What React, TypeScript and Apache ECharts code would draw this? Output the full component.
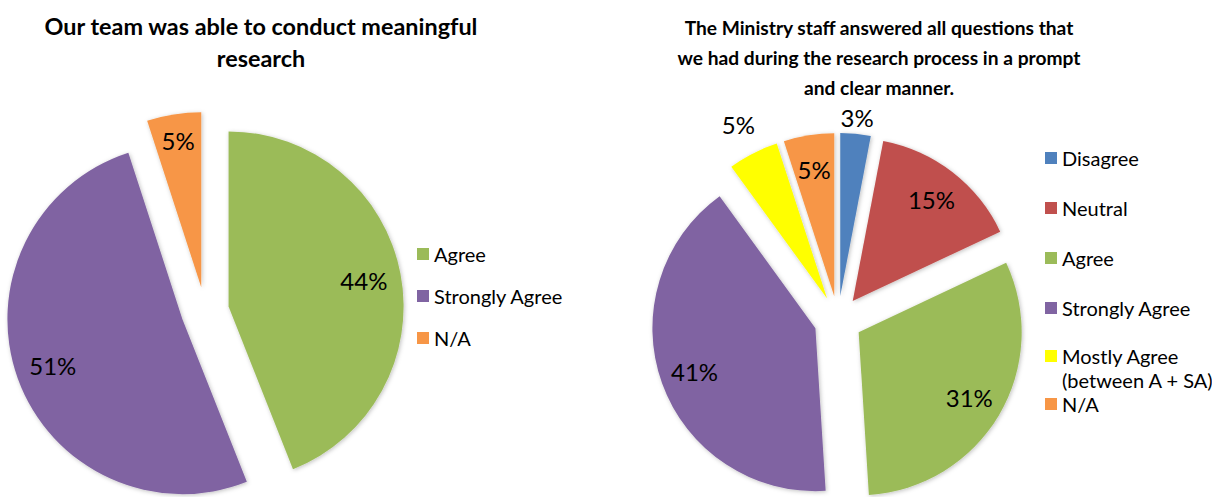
import React, { useEffect, useRef } from "react";
import * as echarts from "echarts";

const leftTitle = "Our team was able to conduct meaningful\nresearch";
const leftNames = ["Agree", "Strongly Agree", "N/A"];
const leftValues = [44, 51, 5];
const leftColors = ["#9BBB59", "#8064A2", "#F79646"];

const rightTitle =
  "The Ministry staff answered all questions that\nwe had during the research process in a prompt\nand clear manner.";
const rightNames = ["Disagree", "Neutral", "Agree", "Strongly Agree", "Mostly Agree (between A + SA)", "N/A"];
const rightValues = [3, 15, 31, 41, 5, 5];
const rightColors = ["#4F81BD", "#C0504D", "#9BBB59", "#8064A2", "#FFFF00", "#F79646"];

const FONT = "Lato, 'Open Sans', sans-serif";

function pieSeries(
  id: string,
  center: number[],
  radius: number[] | number,
  names: string[],
  values: number[],
  colors: string[],
  visible: boolean,
  labelIdx: number[]
) {
  return {
    type: "pie",
    name: id,
    center,
    radius,
    startAngle: 90,
    clockwise: true,
    selectedMode: "multiple",
    selectedOffset: 24,
    avoidLabelOverlap: false,
    silent: !visible,
    emphasis: { disabled: true, scale: false },
    z: visible ? 2 : 3,
    labelLine: { show: false },
    label: {
      show: false,
      position: "inside",
      formatter: "{c}%",
      color: "#000",
      fontFamily: FONT,
      fontSize: 24,
    },
    data: names.map((n, i) => ({
      name: n,
      value: values[i],
      selected: true,
      itemStyle: visible
        ? {
            color: colors[i],
            shadowBlur: 4,
            shadowColor: "rgba(0,0,0,0.25)",
            shadowOffsetX: 1,
            shadowOffsetY: 1,
          }
        : { color: "rgba(0,0,0,0)" },
      label: { show: labelIdx.includes(i) },
    })),
  };
}

export default function App() {
  const ref = useRef<HTMLDivElement>(null);
  useEffect(() => {
    if (!ref.current) return;
    const chart = echarts.init(ref.current, null, { renderer: "svg" });
    const LC = [205, 311];
    const LR = 175;
    const RC = [838, 320];
    const RR = 163;
    const legendText = { fontFamily: FONT, fontSize: 20, color: "#000" };
    chart.setOption({
      animation: false,
      backgroundColor: "#fff",
      title: [
        {
          text: leftTitle,
          left: 261,
          top: 10,
          padding: 0,
          textAlign: "center",
          textStyle: { fontFamily: FONT, fontWeight: "bold", fontSize: 23.4, lineHeight: 32, color: "#000" },
        },
        {
          text: rightTitle,
          left: 879,
          top: 12,
          padding: 0,
          textAlign: "center",
          textStyle: { fontFamily: FONT, fontWeight: "bold", fontSize: 19.2, lineHeight: 30, color: "#000" },
        },
      ],
      legend: [
        {
          orient: "vertical",
          left: 417,
          top: 244,
          padding: 0,
          itemGap: 22,
          itemWidth: 12,
          itemHeight: 12,
          icon: "rect",
          selectedMode: false,
          data: leftNames,
          textStyle: { ...legendText, lineHeight: 20 },
        },
        {
          orient: "vertical",
          left: 1045,
          top: 146,
          padding: 0,
          itemGap: 26,
          itemWidth: 12,
          itemHeight: 12,
          icon: "rect",
          selectedMode: false,
          data: rightNames.slice(0, 4),
          textStyle: { ...legendText, lineHeight: 24 },
        },
        {
          orient: "vertical",
          left: 1045,
          top: 320,
          padding: 0,
          itemGap: 0,
          itemWidth: 12,
          itemHeight: 12,
          icon: "rect",
          selectedMode: false,
          formatter: (n: string) => (n.indexOf(" (") >= 0 ? "\n" + n.replace(" (", "\n(") : n),
          data: rightNames.slice(4),
          textStyle: { ...legendText, lineHeight: 24 },
        },
      ],
      series: [
        pieSeries("leftPie", LC, LR, leftNames, leftValues, leftColors, true, []),
        pieSeries("rightPie", RC, RR, rightNames, rightValues, rightColors, true, []),
        pieSeries("leftLabels", LC, [LR * 0.54, LR], leftNames, leftValues, leftColors, false, [0, 1]),
        pieSeries("leftLabelsOuter", LC, [LR * 0.66, LR], leftNames, leftValues, leftColors, false, [2]),
        pieSeries("rightLabels", RC, [RR * 0.54, RR], rightNames, rightValues, rightColors, false, [1, 2, 3, 5]),
        pieSeries("rightOuterA", RC, [RR, RR * 1.17], rightNames, rightValues, rightColors, false, [0]),
        pieSeries("rightOuterB", RC, [RR * 1.08, RR * 1.28], rightNames, rightValues, rightColors, false, [4]),
      ],
    });
    return () => chart.dispose();
  }, []);
  return (
    <div
      ref={ref}
      style={{ position: "absolute", left: 0, top: 0, width: 1212, height: 497, background: "#fff" }}
    />
  );
}
